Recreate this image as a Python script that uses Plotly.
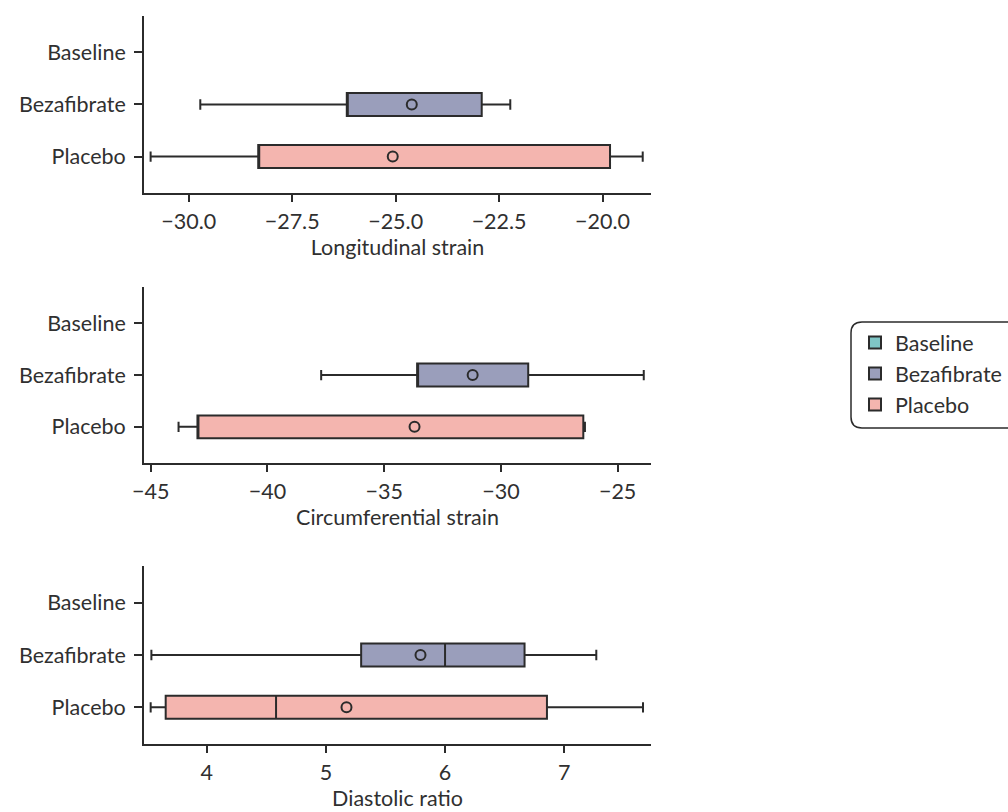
import plotly.graph_objects as go
from plotly.subplots import make_subplots

# Groups and colours
groups = ["Baseline", "Bezafibrate", "Placebo"]
group_pos = {"Placebo": 0, "Bezafibrate": 1, "Baseline": 2}
colors = {"Baseline": "#7fc6c6", "Bezafibrate": "#9a9ebb", "Placebo": "#f4b5af"}

# Box statistics per outcome: [Bezafibrate, Placebo]
outcomes = ["Longitudinal strain", "Circumferential strain", "Diastolic ratio"]

long_lower = [-29.72, -30.92]
long_q1 = [-26.18, -28.32]
long_median = [-26.18, -28.32]
long_q3 = [-22.92, -19.82]
long_upper = [-22.23, -19.03]
long_mean = [-24.61, -25.07]

circ_lower = [-37.70, -43.81]
circ_q1 = [-33.59, -43.00]
circ_median = [-33.59, -43.00]
circ_q3 = [-28.83, -26.47]
circ_upper = [-23.88, -26.40]
circ_mean = [-31.21, -33.70]

diast_lower = [3.536, 3.530]
diast_q1 = [5.296, 3.656]
diast_median = [6.00, 4.582]
diast_q3 = [6.667, 6.855]
diast_upper = [7.269, 7.661]
diast_mean = [5.794, 5.173]

x_ranges = [[-31.08, -18.83], [-45.29, -23.57], [3.474, 7.728]]
x_ticks = [[-30.0, -27.5, -25.0, -22.5, -20.0], [-45, -40, -35, -30, -25], [4, 5, 6, 7]]
x_ticktext = [["\u221230.0", "\u221227.5", "\u221225.0", "\u221222.5", "\u221220.0"],
              ["\u221245", "\u221240", "\u221235", "\u221230", "\u221225"],
              ["4", "5", "6", "7"]]

stats = [
    (long_lower, long_q1, long_median, long_q3, long_upper, long_mean),
    (circ_lower, circ_q1, circ_median, circ_q3, circ_upper, circ_mean),
    (diast_lower, diast_q1, diast_median, diast_q3, diast_upper, diast_mean),
]

FONT = "Lato"
FS = 21.5
TXT = "#303030"
LINE = "#2b2b2b"
W, H = 1008, 812
MARGIN = dict(l=144, r=357, t=16, b=68)

fig = make_subplots(rows=3, cols=1, shared_xaxes=False)

for r, (lo, q1, med, q3, up, mn) in enumerate(stats, start=1):
    for i, g in enumerate(["Bezafibrate", "Placebo"]):
        fig.add_trace(go.Box(
            orientation="h",
            y=[group_pos[g]],
            lowerfence=[lo[i]], q1=[q1[i]], median=[med[i]], q3=[q3[i]], upperfence=[up[i]],
            fillcolor=colors[g],
            line=dict(color=LINE, width=2),
            width=0.44,
            whiskerwidth=0.45,
            boxpoints=False,
            showlegend=False,
            hoverinfo="skip",
        ), row=r, col=1)
    fig.add_trace(go.Scatter(
        x=mn, y=[group_pos["Bezafibrate"], group_pos["Placebo"]],
        mode="markers",
        marker=dict(symbol="circle-open", size=10, color=LINE, line=dict(width=2)),
        showlegend=False, hoverinfo="skip",
    ), row=r, col=1)

# Legend entries
for g in groups:
    fig.add_trace(go.Scatter(
        x=[None], y=[None], mode="markers", name=g,
        marker=dict(symbol="square", size=13, color=colors[g], line=dict(color=LINE, width=1.8)),
    ), row=1, col=1)

domains = [[0.7569, 1.0], [0.386, 0.6277], [0.0, 0.2445]]
for r in range(1, 4):
    xa = "xaxis" if r == 1 else f"xaxis{r}"
    ya = "yaxis" if r == 1 else f"yaxis{r}"
    fig.layout[xa].update(
        range=x_ranges[r - 1], tickvals=x_ticks[r - 1], ticktext=x_ticktext[r - 1],
        showgrid=False, zeroline=False, showline=True, linecolor=LINE, linewidth=1.8,
        ticks="outside", ticklen=7, tickwidth=1.5, tickcolor=LINE,
        ticklabelstandoff=1, automargin=False,
        tickfont=dict(family=FONT, size=FS, color=TXT),
        title=dict(text=outcomes[r - 1], font=dict(family=FONT, size=FS, color=TXT), standoff=6),
    )
    fig.layout[ya].update(
        domain=domains[r - 1], range=[-0.7, 2.7], tickvals=[0, 1, 2],
        ticktext=["Placebo", "Bezafibrate", "Baseline"],
        showgrid=False, zeroline=False, showline=True, linecolor=LINE, linewidth=1.8,
        ticks="outside", ticklen=8, tickwidth=1.5, tickcolor=LINE,
        ticklabelstandoff=4, automargin=False,
        tickfont=dict(family=FONT, size=FS, color=TXT),
    )

# Rounded frame around the legend, given in pixels and converted to paper coords
x0, x1, y0, y1, rad = 851, 1015, 322, 428, 11
plot_l, plot_w = MARGIN["l"], W - MARGIN["l"] - MARGIN["r"]
plot_t, plot_h = MARGIN["t"], H - MARGIN["t"] - MARGIN["b"]


def to_paper(px, py):
    return (px - plot_l) / plot_w, 1 - (py - plot_t) / plot_h


pts = [(x0 + rad, y0), (x1, y0), (x1, y1), (x0 + rad, y1), (x0, y1), (x0, y1 - rad),
       (x0, y0 + rad), (x0, y0), (x0 + rad, y0)]
pp = [to_paper(*p) for p in pts]
frame_path = (f"M {pp[0][0]},{pp[0][1]} L {pp[1][0]},{pp[1][1]} L {pp[2][0]},{pp[2][1]} "
              f"L {pp[3][0]},{pp[3][1]} Q {pp[4][0]},{pp[4][1]} {pp[5][0]},{pp[5][1]} "
              f"L {pp[6][0]},{pp[6][1]} Q {pp[7][0]},{pp[7][1]} {pp[8][0]},{pp[8][1]} Z")

fig.update_layout(
    width=W, height=H,
    margin=dict(MARGIN, autoexpand=False),
    plot_bgcolor="white", paper_bgcolor="white",
    font=dict(family=FONT, size=FS, color=TXT),
    legend=dict(
        x=855 / W, xref="container", y=1 - 322 / H, yref="container",
        xanchor="left", yanchor="top",
        font=dict(family=FONT, size=FS, color=TXT),
        bgcolor="rgba(0,0,0,0)", borderwidth=0,
        itemsizing="constant", tracegroupgap=0,
    ),
    shapes=[dict(type="path", xref="paper", yref="paper", path=frame_path,
                 line=dict(color=LINE, width=1.5), layer="above")],
)

fig.write_html("out.html")
